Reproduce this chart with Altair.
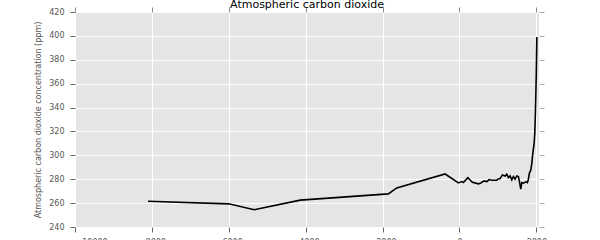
import altair as alt
import pandas as pd

# Year (negative = BCE) and CO2 concentration (ppm)
years = [-8100, -6000, -5340, -4140, -1850, -1630, -372, -26, 62, 104, 218, 338,
         494, 556, 642, 712, 772, 842, 972, 998, 1058, 1118, 1188, 1232, 1274,
         1318, 1362, 1404, 1448, 1492, 1534, 1560, 1596, 1622, 1664, 1727, 1768,
         1794, 1820, 1857, 1883, 1909, 1943, 1960, 1976, 1990, 2000, 2010, 2014]
ppm = [261.6, 259.4, 254.4, 262.5, 267.7, 272.7, 284.4, 276.9, 278.0, 277.2, 281.3, 277.5,
       276.1, 276.9, 278.6, 278.0, 279.7, 279.2, 279.2, 280.0, 280.5, 283.6, 282.7, 284.2, 281.3,
       282.7, 279.4, 282.2, 280.0, 282.7, 282.2, 278.0, 271.7, 277.2, 276.7, 277.8, 277.2,
       280.0, 285.0, 287.8, 293.3, 301.7, 310.0, 318.0, 335.0, 354.0, 369.0, 389.0, 399.0]

x_ticks = [-10000, -8000, -6000, -4000, -2000, 0, 2000]
y_ticks = [240, 260, 280, 300, 320, 340, 360, 380, 400, 420]

df = pd.DataFrame({"year": years, "ppm": ppm})

FONT = "DejaVu Sans"

xscale = alt.Scale(domain=[-10000, 2070], nice=False, zero=False)
yscale = alt.Scale(domain=[240, 420], nice=False, zero=False)

main = alt.Chart(df).mark_line(color="black", strokeWidth=1.6).encode(
    x=alt.X("year:Q", scale=xscale,
            axis=alt.Axis(orient="bottom", values=x_ticks, format="d", title=None,
                          grid=True, gridColor="white", gridWidth=1,
                          domain=False, ticks=True, tickSize=5, tickColor="#666",
                          labelFont=FONT, labelFontSize=8, labelColor="#555",
                          labelPadding=6)),
    y=alt.Y("ppm:Q", scale=yscale,
            axis=alt.Axis(orient="left", values=y_ticks, title="Atmospheric carbon dioxide concentration (ppm)",
                          grid=True, gridColor="white", gridWidth=1,
                          domain=False, ticks=True, tickSize=5, tickColor="#666",
                          labelFont=FONT, labelFontSize=8, labelColor="#555",
                          labelPadding=6, titleFont=FONT, titleFontSize=8,
                          titleColor="#555", titleFontWeight="normal", titlePadding=6)),
    order="year:Q",
)

mirror = alt.Chart(df).mark_line(opacity=0).encode(
    x=alt.X("year:Q", scale=xscale,
            axis=alt.Axis(orient="top", values=x_ticks, labels=False, title=None, grid=False,
                          domain=False, ticks=True, tickSize=5, tickColor="#888")),
    y=alt.Y("ppm:Q", scale=yscale,
            axis=alt.Axis(orient="right", values=y_ticks, labels=False, title=None, grid=False,
                          domain=False, ticks=True, tickSize=5, tickColor="#aaa")),
)

chart = alt.layer(main, mirror).resolve_axis(x="independent", y="independent").properties(
    width=464,
    height=215,
    title=alt.TitleParams("Atmospheric carbon dioxide", anchor="middle", font=FONT,
                          fontSize=11, fontWeight="normal", color="black",
                          baseline="alphabetic", frame="group", offset=0, dy=12),
    autosize=alt.AutoSizeParams(type="none"),
    padding={"left": 75, "top": 12, "right": 61, "bottom": 13},
    background="white",
).configure_view(fill="#E5E5E5", stroke=None)

chart.save("out.html", embed_options={"renderer": "svg", "actions": False})
